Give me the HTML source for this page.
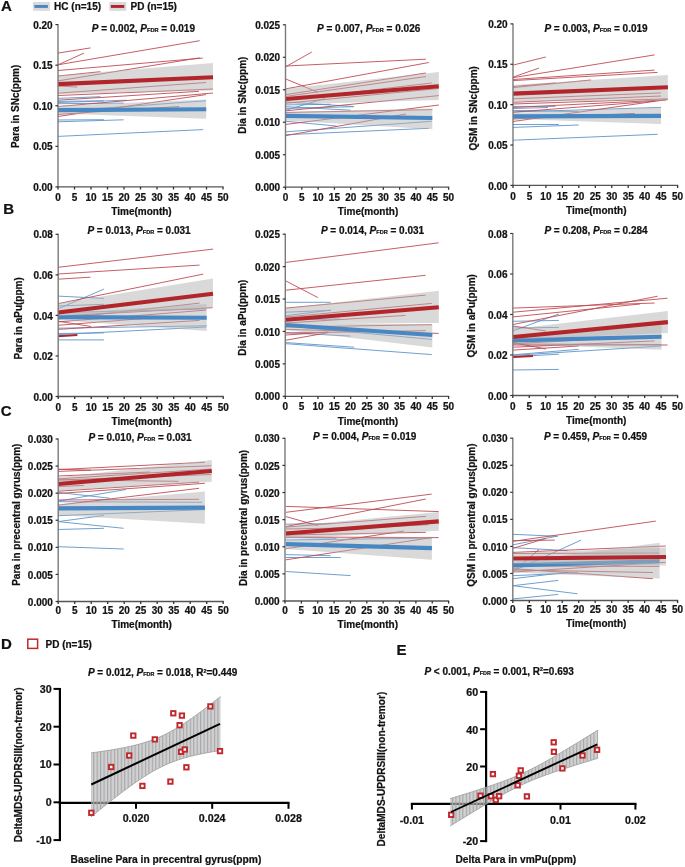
<!DOCTYPE html><html><head><meta charset="utf-8"><style>html,body{margin:0;padding:0;background:#fff;}svg{display:block;will-change:transform;}</style></head><body><svg width="685" height="867" viewBox="0 0 685 867" font-family='"Liberation Sans", sans-serif'>
<style>text{stroke:#111;stroke-width:0.22px;paint-order:stroke;}</style>
<rect width="685" height="867" fill="#fff"/>
<text x="1.00" y="11.40" font-size="15" text-anchor="start" font-weight="bold" fill="#111" >A</text>
<text x="3.30" y="213.50" font-size="15" text-anchor="start" font-weight="bold" fill="#111" >B</text>
<text x="0.70" y="415.50" font-size="15" text-anchor="start" font-weight="bold" fill="#111" >C</text>
<rect x="33" y="2" width="16.8" height="8.8" fill="#d9d9d9"/>
<rect x="34.4" y="5" width="13.5" height="2.9" fill="#4787c4"/>
<text x="54.10" y="9.90" font-size="10" text-anchor="start" font-weight="bold" fill="#111" >HC (n=15)</text>
<rect x="109.4" y="2" width="16.8" height="8.8" fill="#d9d9d9"/>
<rect x="110.8" y="5" width="13.5" height="2.9" fill="#b2252a"/>
<text x="130.50" y="9.90" font-size="10" text-anchor="start" font-weight="bold" fill="#111" >PD (n=15)</text>
<line x1="58.00" y1="98.40" x2="100.40" y2="96.70" stroke="#5f95c8" stroke-width="0.9" />
<line x1="58.00" y1="101.40" x2="103.90" y2="100.80" stroke="#5f95c8" stroke-width="0.9" />
<line x1="58.00" y1="102.50" x2="126.70" y2="100.20" stroke="#5f95c8" stroke-width="0.9" />
<line x1="58.00" y1="103.70" x2="123.70" y2="103.10" stroke="#5f95c8" stroke-width="0.9" />
<line x1="58.00" y1="111.40" x2="205.90" y2="100.80" stroke="#5f95c8" stroke-width="0.9" />
<line x1="58.00" y1="120.00" x2="103.90" y2="119.70" stroke="#5f95c8" stroke-width="0.9" />
<line x1="58.00" y1="121.80" x2="123.70" y2="119.80" stroke="#5f95c8" stroke-width="0.9" />
<line x1="58.00" y1="136.40" x2="203.20" y2="129.60" stroke="#5f95c8" stroke-width="0.9" />
<line x1="58.00" y1="53.10" x2="90.50" y2="47.90" stroke="#bf4c52" stroke-width="0.9" />
<line x1="58.00" y1="64.80" x2="84.00" y2="53.10" stroke="#bf4c52" stroke-width="0.9" />
<line x1="58.00" y1="64.80" x2="199.70" y2="40.70" stroke="#bf4c52" stroke-width="0.9" />
<line x1="58.00" y1="70.50" x2="202.70" y2="58.10" stroke="#bf4c52" stroke-width="0.9" />
<line x1="58.00" y1="76.00" x2="100.40" y2="71.70" stroke="#bf4c52" stroke-width="0.9" />
<line x1="58.00" y1="80.90" x2="199.70" y2="57.80" stroke="#bf4c52" stroke-width="0.9" />
<line x1="58.00" y1="85.90" x2="77.30" y2="87.10" stroke="#bf4c52" stroke-width="0.9" />
<line x1="58.00" y1="93.20" x2="206.00" y2="82.50" stroke="#bf4c52" stroke-width="0.9" />
<line x1="58.00" y1="95.50" x2="213.00" y2="89.00" stroke="#bf4c52" stroke-width="0.9" />
<line x1="58.00" y1="100.20" x2="199.00" y2="91.30" stroke="#bf4c52" stroke-width="0.9" />
<line x1="58.00" y1="106.60" x2="213.00" y2="93.00" stroke="#bf4c52" stroke-width="0.9" />
<line x1="58.00" y1="116.50" x2="206.00" y2="94.60" stroke="#bf4c52" stroke-width="0.9" />
<line x1="58.00" y1="114.40" x2="179.10" y2="106.50" stroke="#bf4c52" stroke-width="0.9" />
<polygon points="58.00,105.80 206.20,99.40 206.20,118.80 58.00,113.40" fill="#b4b4b4" fill-opacity="0.5"/>
<line x1="58.00" y1="110.10" x2="206.20" y2="109.20" stroke="#4787c4" stroke-width="4.1" />
<polygon points="58.00,75.40 213.00,63.10 213.00,90.60 58.00,94.10" fill="#b4b4b4" fill-opacity="0.5"/>
<line x1="58.00" y1="84.10" x2="213.00" y2="77.20" stroke="#b2252a" stroke-width="4.1" />
<line x1="58.00" y1="24.10" x2="58.00" y2="186.90" stroke="#7a7a7a" stroke-width="1.4" />
<line x1="57.30" y1="186.90" x2="223.60" y2="186.90" stroke="#555555" stroke-width="1.3" />
<line x1="55.40" y1="186.90" x2="58.00" y2="186.90" stroke="#333333" stroke-width="1.2" />
<text x="52.70" y="191.00" font-size="10" text-anchor="end" font-weight="bold" fill="#111" >0.00</text>
<line x1="55.40" y1="146.32" x2="58.00" y2="146.32" stroke="#333333" stroke-width="1.2" />
<text x="52.70" y="150.42" font-size="10" text-anchor="end" font-weight="bold" fill="#111" >0.05</text>
<line x1="55.40" y1="105.75" x2="58.00" y2="105.75" stroke="#333333" stroke-width="1.2" />
<text x="52.70" y="109.85" font-size="10" text-anchor="end" font-weight="bold" fill="#111" >0.10</text>
<line x1="55.40" y1="65.17" x2="58.00" y2="65.17" stroke="#333333" stroke-width="1.2" />
<text x="52.70" y="69.27" font-size="10" text-anchor="end" font-weight="bold" fill="#111" >0.15</text>
<line x1="55.40" y1="24.60" x2="58.00" y2="24.60" stroke="#333333" stroke-width="1.2" />
<text x="52.70" y="28.70" font-size="10" text-anchor="end" font-weight="bold" fill="#111" >0.20</text>
<line x1="58.00" y1="186.90" x2="58.00" y2="189.50" stroke="#333333" stroke-width="1.3" />
<text x="58.00" y="201.00" font-size="10" text-anchor="middle" font-weight="bold" fill="#111" >0</text>
<line x1="74.50" y1="186.90" x2="74.50" y2="189.50" stroke="#333333" stroke-width="1.3" />
<text x="74.50" y="201.00" font-size="10" text-anchor="middle" font-weight="bold" fill="#111" >5</text>
<line x1="91.00" y1="186.90" x2="91.00" y2="189.50" stroke="#333333" stroke-width="1.3" />
<text x="91.00" y="201.00" font-size="10" text-anchor="middle" font-weight="bold" fill="#111" >10</text>
<line x1="107.50" y1="186.90" x2="107.50" y2="189.50" stroke="#333333" stroke-width="1.3" />
<text x="107.50" y="201.00" font-size="10" text-anchor="middle" font-weight="bold" fill="#111" >15</text>
<line x1="124.00" y1="186.90" x2="124.00" y2="189.50" stroke="#333333" stroke-width="1.3" />
<text x="124.00" y="201.00" font-size="10" text-anchor="middle" font-weight="bold" fill="#111" >20</text>
<line x1="140.50" y1="186.90" x2="140.50" y2="189.50" stroke="#333333" stroke-width="1.3" />
<text x="140.50" y="201.00" font-size="10" text-anchor="middle" font-weight="bold" fill="#111" >25</text>
<line x1="157.00" y1="186.90" x2="157.00" y2="189.50" stroke="#333333" stroke-width="1.3" />
<text x="157.00" y="201.00" font-size="10" text-anchor="middle" font-weight="bold" fill="#111" >30</text>
<line x1="173.50" y1="186.90" x2="173.50" y2="189.50" stroke="#333333" stroke-width="1.3" />
<text x="173.50" y="201.00" font-size="10" text-anchor="middle" font-weight="bold" fill="#111" >35</text>
<line x1="190.00" y1="186.90" x2="190.00" y2="189.50" stroke="#333333" stroke-width="1.3" />
<text x="190.00" y="201.00" font-size="10" text-anchor="middle" font-weight="bold" fill="#111" >40</text>
<line x1="206.50" y1="186.90" x2="206.50" y2="189.50" stroke="#333333" stroke-width="1.3" />
<text x="206.50" y="201.00" font-size="10" text-anchor="middle" font-weight="bold" fill="#111" >45</text>
<line x1="223.00" y1="186.90" x2="223.00" y2="189.50" stroke="#333333" stroke-width="1.3" />
<text x="223.00" y="201.00" font-size="10" text-anchor="middle" font-weight="bold" fill="#111" >50</text>
<text x="141.50" y="215.10" font-size="10" text-anchor="middle" font-weight="bold" fill="#111" >Time(month)</text>
<text x="0" y="0" font-size="10" font-weight="bold" fill="#111" text-anchor="middle" transform="translate(19.40,106.40) rotate(-90)">Para in SNc(ppm)</text>
<text x="91.70" y="31.70" font-size="10" font-weight="bold" fill="#111"><tspan font-style="italic">P</tspan> = 0.002, <tspan font-style="italic">P</tspan><tspan font-size="5.6">FDR</tspan> = 0.019</text>
<line x1="286.00" y1="104.90" x2="330.70" y2="104.30" stroke="#5f95c8" stroke-width="0.9" />
<line x1="286.00" y1="106.70" x2="350.60" y2="110.20" stroke="#5f95c8" stroke-width="0.9" />
<line x1="286.00" y1="110.20" x2="324.90" y2="98.50" stroke="#5f95c8" stroke-width="0.9" />
<line x1="286.00" y1="108.40" x2="354.00" y2="106.70" stroke="#5f95c8" stroke-width="0.9" />
<line x1="286.00" y1="121.30" x2="336.60" y2="126.00" stroke="#5f95c8" stroke-width="0.9" />
<line x1="286.00" y1="131.80" x2="431.70" y2="121.30" stroke="#5f95c8" stroke-width="0.9" />
<line x1="286.00" y1="134.70" x2="428.80" y2="128.30" stroke="#5f95c8" stroke-width="0.9" />
<line x1="286.00" y1="102.00" x2="353.70" y2="106.50" stroke="#5f95c8" stroke-width="0.9" />
<line x1="286.00" y1="66.60" x2="311.80" y2="52.00" stroke="#bf4c52" stroke-width="0.9" />
<line x1="286.00" y1="66.00" x2="425.90" y2="59.20" stroke="#bf4c52" stroke-width="0.9" />
<line x1="286.00" y1="79.10" x2="317.90" y2="92.30" stroke="#bf4c52" stroke-width="0.9" />
<line x1="286.00" y1="88.80" x2="428.80" y2="62.50" stroke="#bf4c52" stroke-width="0.9" />
<line x1="286.00" y1="94.60" x2="425.90" y2="73.00" stroke="#bf4c52" stroke-width="0.9" />
<line x1="286.00" y1="96.40" x2="425.90" y2="76.50" stroke="#bf4c52" stroke-width="0.9" />
<line x1="286.00" y1="100.00" x2="431.70" y2="83.00" stroke="#bf4c52" stroke-width="0.9" />
<line x1="286.00" y1="103.20" x2="438.70" y2="88.50" stroke="#bf4c52" stroke-width="0.9" />
<line x1="286.00" y1="110.80" x2="438.70" y2="95.60" stroke="#bf4c52" stroke-width="0.9" />
<line x1="286.00" y1="112.50" x2="432.30" y2="109.60" stroke="#bf4c52" stroke-width="0.9" />
<line x1="286.00" y1="124.40" x2="438.90" y2="105.00" stroke="#bf4c52" stroke-width="0.9" />
<line x1="286.00" y1="135.60" x2="405.90" y2="114.00" stroke="#bf4c52" stroke-width="0.9" />
<polygon points="286.00,111.90 432.30,108.50 432.30,129.30 286.00,120.40" fill="#b4b4b4" fill-opacity="0.5"/>
<line x1="286.00" y1="115.90" x2="432.30" y2="118.00" stroke="#4787c4" stroke-width="4.1" />
<polygon points="286.00,88.70 438.80,72.10 438.80,100.00 286.00,104.50" fill="#b4b4b4" fill-opacity="0.5"/>
<line x1="286.00" y1="99.00" x2="438.80" y2="86.20" stroke="#b2252a" stroke-width="4.1" />
<line x1="285.50" y1="24.30" x2="285.50" y2="187.20" stroke="#7a7a7a" stroke-width="1.4" />
<line x1="284.80" y1="187.20" x2="449.20" y2="187.20" stroke="#555555" stroke-width="1.3" />
<line x1="282.90" y1="187.20" x2="285.50" y2="187.20" stroke="#333333" stroke-width="1.2" />
<text x="280.20" y="191.30" font-size="10" text-anchor="end" font-weight="bold" fill="#111" >0.000</text>
<line x1="282.90" y1="154.72" x2="285.50" y2="154.72" stroke="#333333" stroke-width="1.2" />
<text x="280.20" y="158.82" font-size="10" text-anchor="end" font-weight="bold" fill="#111" >0.005</text>
<line x1="282.90" y1="122.24" x2="285.50" y2="122.24" stroke="#333333" stroke-width="1.2" />
<text x="280.20" y="126.34" font-size="10" text-anchor="end" font-weight="bold" fill="#111" >0.010</text>
<line x1="282.90" y1="89.76" x2="285.50" y2="89.76" stroke="#333333" stroke-width="1.2" />
<text x="280.20" y="93.86" font-size="10" text-anchor="end" font-weight="bold" fill="#111" >0.015</text>
<line x1="282.90" y1="57.28" x2="285.50" y2="57.28" stroke="#333333" stroke-width="1.2" />
<text x="280.20" y="61.38" font-size="10" text-anchor="end" font-weight="bold" fill="#111" >0.020</text>
<line x1="282.90" y1="24.80" x2="285.50" y2="24.80" stroke="#333333" stroke-width="1.2" />
<text x="280.20" y="28.90" font-size="10" text-anchor="end" font-weight="bold" fill="#111" >0.025</text>
<line x1="285.50" y1="187.20" x2="285.50" y2="189.80" stroke="#333333" stroke-width="1.3" />
<text x="285.50" y="201.30" font-size="10" text-anchor="middle" font-weight="bold" fill="#111" >0</text>
<line x1="301.81" y1="187.20" x2="301.81" y2="189.80" stroke="#333333" stroke-width="1.3" />
<text x="301.81" y="201.30" font-size="10" text-anchor="middle" font-weight="bold" fill="#111" >5</text>
<line x1="318.12" y1="187.20" x2="318.12" y2="189.80" stroke="#333333" stroke-width="1.3" />
<text x="318.12" y="201.30" font-size="10" text-anchor="middle" font-weight="bold" fill="#111" >10</text>
<line x1="334.43" y1="187.20" x2="334.43" y2="189.80" stroke="#333333" stroke-width="1.3" />
<text x="334.43" y="201.30" font-size="10" text-anchor="middle" font-weight="bold" fill="#111" >15</text>
<line x1="350.74" y1="187.20" x2="350.74" y2="189.80" stroke="#333333" stroke-width="1.3" />
<text x="350.74" y="201.30" font-size="10" text-anchor="middle" font-weight="bold" fill="#111" >20</text>
<line x1="367.05" y1="187.20" x2="367.05" y2="189.80" stroke="#333333" stroke-width="1.3" />
<text x="367.05" y="201.30" font-size="10" text-anchor="middle" font-weight="bold" fill="#111" >25</text>
<line x1="383.36" y1="187.20" x2="383.36" y2="189.80" stroke="#333333" stroke-width="1.3" />
<text x="383.36" y="201.30" font-size="10" text-anchor="middle" font-weight="bold" fill="#111" >30</text>
<line x1="399.67" y1="187.20" x2="399.67" y2="189.80" stroke="#333333" stroke-width="1.3" />
<text x="399.67" y="201.30" font-size="10" text-anchor="middle" font-weight="bold" fill="#111" >35</text>
<line x1="415.98" y1="187.20" x2="415.98" y2="189.80" stroke="#333333" stroke-width="1.3" />
<text x="415.98" y="201.30" font-size="10" text-anchor="middle" font-weight="bold" fill="#111" >40</text>
<line x1="432.29" y1="187.20" x2="432.29" y2="189.80" stroke="#333333" stroke-width="1.3" />
<text x="432.29" y="201.30" font-size="10" text-anchor="middle" font-weight="bold" fill="#111" >45</text>
<line x1="448.60" y1="187.20" x2="448.60" y2="189.80" stroke="#333333" stroke-width="1.3" />
<text x="448.60" y="201.30" font-size="10" text-anchor="middle" font-weight="bold" fill="#111" >50</text>
<text x="368.05" y="215.40" font-size="10" text-anchor="middle" font-weight="bold" fill="#111" >Time(month)</text>
<text x="0" y="0" font-size="10" font-weight="bold" fill="#111" text-anchor="middle" transform="translate(246.00,95.20) rotate(-90)">Dia in SNc(ppm)</text>
<text x="317.00" y="31.70" font-size="10" font-weight="bold" fill="#111"><tspan font-style="italic">P</tspan> = 0.007, <tspan font-style="italic">P</tspan><tspan font-size="5.6">FDR</tspan> = 0.026</text>
<line x1="513.00" y1="106.40" x2="555.40" y2="106.40" stroke="#5f95c8" stroke-width="0.9" />
<line x1="513.00" y1="108.50" x2="548.00" y2="107.50" stroke="#5f95c8" stroke-width="0.9" />
<line x1="513.00" y1="110.40" x2="578.70" y2="111.60" stroke="#5f95c8" stroke-width="0.9" />
<line x1="513.00" y1="112.00" x2="661.00" y2="107.40" stroke="#5f95c8" stroke-width="0.9" />
<line x1="513.00" y1="124.50" x2="558.90" y2="124.50" stroke="#5f95c8" stroke-width="0.9" />
<line x1="513.00" y1="127.40" x2="578.70" y2="125.00" stroke="#5f95c8" stroke-width="0.9" />
<line x1="513.00" y1="140.20" x2="657.70" y2="134.30" stroke="#5f95c8" stroke-width="0.9" />
<line x1="513.00" y1="65.10" x2="545.80" y2="57.00" stroke="#bf4c52" stroke-width="0.9" />
<line x1="513.00" y1="77.10" x2="539.00" y2="68.10" stroke="#bf4c52" stroke-width="0.9" />
<line x1="513.00" y1="77.70" x2="654.60" y2="54.90" stroke="#bf4c52" stroke-width="0.9" />
<line x1="513.00" y1="79.50" x2="654.60" y2="70.10" stroke="#bf4c52" stroke-width="0.9" />
<line x1="513.00" y1="80.60" x2="657.60" y2="72.40" stroke="#bf4c52" stroke-width="0.9" />
<line x1="513.00" y1="86.50" x2="555.40" y2="83.00" stroke="#bf4c52" stroke-width="0.9" />
<line x1="513.00" y1="87.60" x2="591.00" y2="80.00" stroke="#bf4c52" stroke-width="0.9" />
<line x1="513.00" y1="98.80" x2="661.00" y2="92.90" stroke="#bf4c52" stroke-width="0.9" />
<line x1="513.00" y1="102.30" x2="661.00" y2="96.00" stroke="#bf4c52" stroke-width="0.9" />
<line x1="513.00" y1="104.00" x2="667.50" y2="98.80" stroke="#bf4c52" stroke-width="0.9" />
<line x1="513.00" y1="107.50" x2="665.70" y2="99.90" stroke="#bf4c52" stroke-width="0.9" />
<line x1="513.00" y1="112.20" x2="655.20" y2="101.10" stroke="#bf4c52" stroke-width="0.9" />
<line x1="513.00" y1="121.50" x2="667.60" y2="99.50" stroke="#bf4c52" stroke-width="0.9" />
<line x1="513.00" y1="119.00" x2="634.80" y2="113.40" stroke="#bf4c52" stroke-width="0.9" />
<polygon points="513.00,112.90 661.00,107.40 661.00,124.00 513.00,118.90" fill="#b4b4b4" fill-opacity="0.5"/>
<line x1="513.00" y1="116.40" x2="661.00" y2="115.90" stroke="#4787c4" stroke-width="4.1" />
<polygon points="513.00,85.10 667.90,75.10 667.90,100.60 513.00,101.60" fill="#b4b4b4" fill-opacity="0.5"/>
<line x1="513.00" y1="93.60" x2="667.90" y2="87.20" stroke="#b2252a" stroke-width="4.1" />
<line x1="513.00" y1="23.40" x2="513.00" y2="185.40" stroke="#7a7a7a" stroke-width="1.4" />
<line x1="512.30" y1="185.40" x2="678.20" y2="185.40" stroke="#555555" stroke-width="1.3" />
<line x1="510.40" y1="185.40" x2="513.00" y2="185.40" stroke="#333333" stroke-width="1.2" />
<text x="507.70" y="189.50" font-size="10" text-anchor="end" font-weight="bold" fill="#111" >0.00</text>
<line x1="510.40" y1="145.03" x2="513.00" y2="145.03" stroke="#333333" stroke-width="1.2" />
<text x="507.70" y="149.12" font-size="10" text-anchor="end" font-weight="bold" fill="#111" >0.05</text>
<line x1="510.40" y1="104.65" x2="513.00" y2="104.65" stroke="#333333" stroke-width="1.2" />
<text x="507.70" y="108.75" font-size="10" text-anchor="end" font-weight="bold" fill="#111" >0.10</text>
<line x1="510.40" y1="64.28" x2="513.00" y2="64.28" stroke="#333333" stroke-width="1.2" />
<text x="507.70" y="68.38" font-size="10" text-anchor="end" font-weight="bold" fill="#111" >0.15</text>
<line x1="510.40" y1="23.90" x2="513.00" y2="23.90" stroke="#333333" stroke-width="1.2" />
<text x="507.70" y="28.00" font-size="10" text-anchor="end" font-weight="bold" fill="#111" >0.20</text>
<line x1="513.00" y1="185.40" x2="513.00" y2="188.00" stroke="#333333" stroke-width="1.3" />
<text x="513.00" y="199.50" font-size="10" text-anchor="middle" font-weight="bold" fill="#111" >0</text>
<line x1="529.46" y1="185.40" x2="529.46" y2="188.00" stroke="#333333" stroke-width="1.3" />
<text x="529.46" y="199.50" font-size="10" text-anchor="middle" font-weight="bold" fill="#111" >5</text>
<line x1="545.92" y1="185.40" x2="545.92" y2="188.00" stroke="#333333" stroke-width="1.3" />
<text x="545.92" y="199.50" font-size="10" text-anchor="middle" font-weight="bold" fill="#111" >10</text>
<line x1="562.38" y1="185.40" x2="562.38" y2="188.00" stroke="#333333" stroke-width="1.3" />
<text x="562.38" y="199.50" font-size="10" text-anchor="middle" font-weight="bold" fill="#111" >15</text>
<line x1="578.84" y1="185.40" x2="578.84" y2="188.00" stroke="#333333" stroke-width="1.3" />
<text x="578.84" y="199.50" font-size="10" text-anchor="middle" font-weight="bold" fill="#111" >20</text>
<line x1="595.30" y1="185.40" x2="595.30" y2="188.00" stroke="#333333" stroke-width="1.3" />
<text x="595.30" y="199.50" font-size="10" text-anchor="middle" font-weight="bold" fill="#111" >25</text>
<line x1="611.76" y1="185.40" x2="611.76" y2="188.00" stroke="#333333" stroke-width="1.3" />
<text x="611.76" y="199.50" font-size="10" text-anchor="middle" font-weight="bold" fill="#111" >30</text>
<line x1="628.22" y1="185.40" x2="628.22" y2="188.00" stroke="#333333" stroke-width="1.3" />
<text x="628.22" y="199.50" font-size="10" text-anchor="middle" font-weight="bold" fill="#111" >35</text>
<line x1="644.68" y1="185.40" x2="644.68" y2="188.00" stroke="#333333" stroke-width="1.3" />
<text x="644.68" y="199.50" font-size="10" text-anchor="middle" font-weight="bold" fill="#111" >40</text>
<line x1="661.14" y1="185.40" x2="661.14" y2="188.00" stroke="#333333" stroke-width="1.3" />
<text x="661.14" y="199.50" font-size="10" text-anchor="middle" font-weight="bold" fill="#111" >45</text>
<line x1="677.60" y1="185.40" x2="677.60" y2="188.00" stroke="#333333" stroke-width="1.3" />
<text x="677.60" y="199.50" font-size="10" text-anchor="middle" font-weight="bold" fill="#111" >50</text>
<text x="596.30" y="213.60" font-size="10" text-anchor="middle" font-weight="bold" fill="#111" >Time(month)</text>
<text x="0" y="0" font-size="10" font-weight="bold" fill="#111" text-anchor="middle" transform="translate(476.80,108.30) rotate(-90)">QSM in SNc(ppm)</text>
<text x="544.40" y="31.50" font-size="10" font-weight="bold" fill="#111"><tspan font-style="italic">P</tspan> = 0.003, <tspan font-style="italic">P</tspan><tspan font-size="5.6">FDR</tspan> = 0.019</text>
<line x1="58.00" y1="296.10" x2="103.90" y2="298.40" stroke="#5f95c8" stroke-width="0.9" />
<line x1="58.00" y1="308.90" x2="103.90" y2="289.10" stroke="#5f95c8" stroke-width="0.9" />
<line x1="58.00" y1="306.00" x2="103.90" y2="304.30" stroke="#5f95c8" stroke-width="0.9" />
<line x1="58.00" y1="312.70" x2="206.10" y2="308.90" stroke="#5f95c8" stroke-width="0.9" />
<line x1="58.00" y1="328.20" x2="206.70" y2="325.80" stroke="#5f95c8" stroke-width="0.9" />
<line x1="58.00" y1="334.60" x2="206.10" y2="327.00" stroke="#5f95c8" stroke-width="0.9" />
<line x1="58.00" y1="333.50" x2="103.90" y2="332.90" stroke="#5f95c8" stroke-width="0.9" />
<line x1="58.00" y1="339.90" x2="103.90" y2="339.90" stroke="#5f95c8" stroke-width="0.9" />
<line x1="58.00" y1="267.30" x2="213.10" y2="249.10" stroke="#bf4c52" stroke-width="0.9" />
<line x1="58.00" y1="274.00" x2="199.60" y2="265.10" stroke="#bf4c52" stroke-width="0.9" />
<line x1="58.00" y1="279.20" x2="90.50" y2="277.20" stroke="#bf4c52" stroke-width="0.9" />
<line x1="58.00" y1="303.70" x2="203.20" y2="274.10" stroke="#bf4c52" stroke-width="0.9" />
<line x1="58.00" y1="318.90" x2="199.60" y2="303.10" stroke="#bf4c52" stroke-width="0.9" />
<line x1="58.00" y1="316.00" x2="212.50" y2="307.70" stroke="#bf4c52" stroke-width="0.9" />
<line x1="58.00" y1="321.90" x2="206.10" y2="310.10" stroke="#bf4c52" stroke-width="0.9" />
<line x1="58.00" y1="321.20" x2="91.00" y2="326.50" stroke="#bf4c52" stroke-width="0.9" />
<line x1="58.00" y1="329.40" x2="199.60" y2="320.40" stroke="#bf4c52" stroke-width="0.9" />
<line x1="58.00" y1="325.30" x2="150.00" y2="318.00" stroke="#bf4c52" stroke-width="0.9" />
<line x1="58.00" y1="336.30" x2="77.30" y2="335.00" stroke="#b2252a" stroke-width="2" />
<polygon points="58.00,313.60 206.70,303.90 206.70,331.00 58.00,320.10" fill="#b4b4b4" fill-opacity="0.5"/>
<line x1="58.00" y1="317.10" x2="206.70" y2="317.70" stroke="#4787c4" stroke-width="4.1" />
<polygon points="58.00,303.50 213.00,278.50 213.00,308.00 58.00,316.00" fill="#b4b4b4" fill-opacity="0.5"/>
<line x1="58.00" y1="312.50" x2="213.00" y2="293.80" stroke="#b2252a" stroke-width="4.1" />
<line x1="58.20" y1="233.80" x2="58.20" y2="396.50" stroke="#7a7a7a" stroke-width="1.4" />
<line x1="57.50" y1="396.50" x2="223.80" y2="396.50" stroke="#555555" stroke-width="1.3" />
<line x1="55.60" y1="396.50" x2="58.20" y2="396.50" stroke="#333333" stroke-width="1.2" />
<text x="52.90" y="400.60" font-size="10" text-anchor="end" font-weight="bold" fill="#111" >0.00</text>
<line x1="55.60" y1="355.95" x2="58.20" y2="355.95" stroke="#333333" stroke-width="1.2" />
<text x="52.90" y="360.05" font-size="10" text-anchor="end" font-weight="bold" fill="#111" >0.02</text>
<line x1="55.60" y1="315.40" x2="58.20" y2="315.40" stroke="#333333" stroke-width="1.2" />
<text x="52.90" y="319.50" font-size="10" text-anchor="end" font-weight="bold" fill="#111" >0.04</text>
<line x1="55.60" y1="274.85" x2="58.20" y2="274.85" stroke="#333333" stroke-width="1.2" />
<text x="52.90" y="278.95" font-size="10" text-anchor="end" font-weight="bold" fill="#111" >0.06</text>
<line x1="55.60" y1="234.30" x2="58.20" y2="234.30" stroke="#333333" stroke-width="1.2" />
<text x="52.90" y="238.40" font-size="10" text-anchor="end" font-weight="bold" fill="#111" >0.08</text>
<line x1="58.20" y1="396.50" x2="58.20" y2="399.10" stroke="#333333" stroke-width="1.3" />
<text x="58.20" y="410.60" font-size="10" text-anchor="middle" font-weight="bold" fill="#111" >0</text>
<line x1="74.70" y1="396.50" x2="74.70" y2="399.10" stroke="#333333" stroke-width="1.3" />
<text x="74.70" y="410.60" font-size="10" text-anchor="middle" font-weight="bold" fill="#111" >5</text>
<line x1="91.20" y1="396.50" x2="91.20" y2="399.10" stroke="#333333" stroke-width="1.3" />
<text x="91.20" y="410.60" font-size="10" text-anchor="middle" font-weight="bold" fill="#111" >10</text>
<line x1="107.70" y1="396.50" x2="107.70" y2="399.10" stroke="#333333" stroke-width="1.3" />
<text x="107.70" y="410.60" font-size="10" text-anchor="middle" font-weight="bold" fill="#111" >15</text>
<line x1="124.20" y1="396.50" x2="124.20" y2="399.10" stroke="#333333" stroke-width="1.3" />
<text x="124.20" y="410.60" font-size="10" text-anchor="middle" font-weight="bold" fill="#111" >20</text>
<line x1="140.70" y1="396.50" x2="140.70" y2="399.10" stroke="#333333" stroke-width="1.3" />
<text x="140.70" y="410.60" font-size="10" text-anchor="middle" font-weight="bold" fill="#111" >25</text>
<line x1="157.20" y1="396.50" x2="157.20" y2="399.10" stroke="#333333" stroke-width="1.3" />
<text x="157.20" y="410.60" font-size="10" text-anchor="middle" font-weight="bold" fill="#111" >30</text>
<line x1="173.70" y1="396.50" x2="173.70" y2="399.10" stroke="#333333" stroke-width="1.3" />
<text x="173.70" y="410.60" font-size="10" text-anchor="middle" font-weight="bold" fill="#111" >35</text>
<line x1="190.20" y1="396.50" x2="190.20" y2="399.10" stroke="#333333" stroke-width="1.3" />
<text x="190.20" y="410.60" font-size="10" text-anchor="middle" font-weight="bold" fill="#111" >40</text>
<line x1="206.70" y1="396.50" x2="206.70" y2="399.10" stroke="#333333" stroke-width="1.3" />
<text x="206.70" y="410.60" font-size="10" text-anchor="middle" font-weight="bold" fill="#111" >45</text>
<line x1="223.20" y1="396.50" x2="223.20" y2="399.10" stroke="#333333" stroke-width="1.3" />
<text x="223.20" y="410.60" font-size="10" text-anchor="middle" font-weight="bold" fill="#111" >50</text>
<text x="141.70" y="424.70" font-size="10" text-anchor="middle" font-weight="bold" fill="#111" >Time(month)</text>
<text x="0" y="0" font-size="10" font-weight="bold" fill="#111" text-anchor="middle" transform="translate(22.30,318.30) rotate(-90)">Para in aPu(ppm)</text>
<text x="87.40" y="234.00" font-size="10" font-weight="bold" fill="#111"><tspan font-style="italic">P</tspan> = 0.013, <tspan font-style="italic">P</tspan><tspan font-size="5.6">FDR</tspan> = 0.031</text>
<line x1="286.00" y1="302.30" x2="330.70" y2="302.30" stroke="#5f95c8" stroke-width="0.9" />
<line x1="286.00" y1="312.20" x2="330.70" y2="310.40" stroke="#5f95c8" stroke-width="0.9" />
<line x1="286.00" y1="315.70" x2="330.70" y2="310.10" stroke="#5f95c8" stroke-width="0.9" />
<line x1="286.00" y1="320.00" x2="340.00" y2="319.00" stroke="#5f95c8" stroke-width="0.9" />
<line x1="286.00" y1="332.60" x2="350.60" y2="336.10" stroke="#5f95c8" stroke-width="0.9" />
<line x1="286.00" y1="342.60" x2="354.10" y2="347.20" stroke="#5f95c8" stroke-width="0.9" />
<line x1="286.00" y1="343.70" x2="431.80" y2="354.60" stroke="#5f95c8" stroke-width="0.9" />
<line x1="286.00" y1="326.00" x2="431.80" y2="339.40" stroke="#5f95c8" stroke-width="0.9" />
<line x1="286.00" y1="262.40" x2="438.70" y2="242.80" stroke="#bf4c52" stroke-width="0.9" />
<line x1="286.00" y1="290.20" x2="425.60" y2="275.30" stroke="#bf4c52" stroke-width="0.9" />
<line x1="286.00" y1="281.00" x2="317.90" y2="297.60" stroke="#bf4c52" stroke-width="0.9" />
<line x1="286.00" y1="308.10" x2="425.60" y2="295.10" stroke="#bf4c52" stroke-width="0.9" />
<line x1="286.00" y1="317.00" x2="431.80" y2="303.40" stroke="#bf4c52" stroke-width="0.9" />
<line x1="286.00" y1="323.00" x2="405.50" y2="315.40" stroke="#bf4c52" stroke-width="0.9" />
<line x1="286.00" y1="327.00" x2="431.80" y2="324.70" stroke="#bf4c52" stroke-width="0.9" />
<line x1="286.00" y1="333.00" x2="425.60" y2="330.70" stroke="#bf4c52" stroke-width="0.9" />
<line x1="286.00" y1="329.40" x2="438.70" y2="333.40" stroke="#bf4c52" stroke-width="0.9" />
<line x1="286.00" y1="335.00" x2="328.40" y2="332.00" stroke="#bf4c52" stroke-width="0.9" />
<line x1="286.00" y1="340.20" x2="328.40" y2="332.60" stroke="#bf4c52" stroke-width="0.9" />
<polygon points="286.00,322.00 432.30,324.20 432.30,347.50 286.00,330.00" fill="#b4b4b4" fill-opacity="0.5"/>
<line x1="286.00" y1="325.00" x2="432.30" y2="335.00" stroke="#4787c4" stroke-width="4.1" />
<polygon points="286.00,308.30 438.80,290.80 438.80,322.90 286.00,322.80" fill="#b4b4b4" fill-opacity="0.5"/>
<line x1="286.00" y1="319.80" x2="438.80" y2="307.30" stroke="#b2252a" stroke-width="4.1" />
<line x1="285.30" y1="233.70" x2="285.30" y2="396.30" stroke="#7a7a7a" stroke-width="1.4" />
<line x1="284.60" y1="396.30" x2="449.20" y2="396.30" stroke="#555555" stroke-width="1.3" />
<line x1="282.70" y1="396.30" x2="285.30" y2="396.30" stroke="#333333" stroke-width="1.2" />
<text x="280.00" y="400.40" font-size="10" text-anchor="end" font-weight="bold" fill="#111" >0.000</text>
<line x1="282.70" y1="363.88" x2="285.30" y2="363.88" stroke="#333333" stroke-width="1.2" />
<text x="280.00" y="367.98" font-size="10" text-anchor="end" font-weight="bold" fill="#111" >0.005</text>
<line x1="282.70" y1="331.46" x2="285.30" y2="331.46" stroke="#333333" stroke-width="1.2" />
<text x="280.00" y="335.56" font-size="10" text-anchor="end" font-weight="bold" fill="#111" >0.010</text>
<line x1="282.70" y1="299.04" x2="285.30" y2="299.04" stroke="#333333" stroke-width="1.2" />
<text x="280.00" y="303.14" font-size="10" text-anchor="end" font-weight="bold" fill="#111" >0.015</text>
<line x1="282.70" y1="266.62" x2="285.30" y2="266.62" stroke="#333333" stroke-width="1.2" />
<text x="280.00" y="270.72" font-size="10" text-anchor="end" font-weight="bold" fill="#111" >0.020</text>
<line x1="282.70" y1="234.20" x2="285.30" y2="234.20" stroke="#333333" stroke-width="1.2" />
<text x="280.00" y="238.30" font-size="10" text-anchor="end" font-weight="bold" fill="#111" >0.025</text>
<line x1="285.30" y1="396.30" x2="285.30" y2="398.90" stroke="#333333" stroke-width="1.3" />
<text x="285.30" y="410.40" font-size="10" text-anchor="middle" font-weight="bold" fill="#111" >0</text>
<line x1="301.63" y1="396.30" x2="301.63" y2="398.90" stroke="#333333" stroke-width="1.3" />
<text x="301.63" y="410.40" font-size="10" text-anchor="middle" font-weight="bold" fill="#111" >5</text>
<line x1="317.96" y1="396.30" x2="317.96" y2="398.90" stroke="#333333" stroke-width="1.3" />
<text x="317.96" y="410.40" font-size="10" text-anchor="middle" font-weight="bold" fill="#111" >10</text>
<line x1="334.29" y1="396.30" x2="334.29" y2="398.90" stroke="#333333" stroke-width="1.3" />
<text x="334.29" y="410.40" font-size="10" text-anchor="middle" font-weight="bold" fill="#111" >15</text>
<line x1="350.62" y1="396.30" x2="350.62" y2="398.90" stroke="#333333" stroke-width="1.3" />
<text x="350.62" y="410.40" font-size="10" text-anchor="middle" font-weight="bold" fill="#111" >20</text>
<line x1="366.95" y1="396.30" x2="366.95" y2="398.90" stroke="#333333" stroke-width="1.3" />
<text x="366.95" y="410.40" font-size="10" text-anchor="middle" font-weight="bold" fill="#111" >25</text>
<line x1="383.28" y1="396.30" x2="383.28" y2="398.90" stroke="#333333" stroke-width="1.3" />
<text x="383.28" y="410.40" font-size="10" text-anchor="middle" font-weight="bold" fill="#111" >30</text>
<line x1="399.61" y1="396.30" x2="399.61" y2="398.90" stroke="#333333" stroke-width="1.3" />
<text x="399.61" y="410.40" font-size="10" text-anchor="middle" font-weight="bold" fill="#111" >35</text>
<line x1="415.94" y1="396.30" x2="415.94" y2="398.90" stroke="#333333" stroke-width="1.3" />
<text x="415.94" y="410.40" font-size="10" text-anchor="middle" font-weight="bold" fill="#111" >40</text>
<line x1="432.27" y1="396.30" x2="432.27" y2="398.90" stroke="#333333" stroke-width="1.3" />
<text x="432.27" y="410.40" font-size="10" text-anchor="middle" font-weight="bold" fill="#111" >45</text>
<line x1="448.60" y1="396.30" x2="448.60" y2="398.90" stroke="#333333" stroke-width="1.3" />
<text x="448.60" y="410.40" font-size="10" text-anchor="middle" font-weight="bold" fill="#111" >50</text>
<text x="367.95" y="424.50" font-size="10" text-anchor="middle" font-weight="bold" fill="#111" >Time(month)</text>
<text x="0" y="0" font-size="10" font-weight="bold" fill="#111" text-anchor="middle" transform="translate(245.50,317.60) rotate(-90)">Dia in aPu(ppm)</text>
<text x="320.90" y="234.00" font-size="10" font-weight="bold" fill="#111"><tspan font-style="italic">P</tspan> = 0.014, <tspan font-style="italic">P</tspan><tspan font-size="5.6">FDR</tspan> = 0.031</text>
<line x1="513.00" y1="321.30" x2="558.90" y2="320.40" stroke="#5f95c8" stroke-width="0.9" />
<line x1="513.00" y1="330.90" x2="558.90" y2="313.90" stroke="#5f95c8" stroke-width="0.9" />
<line x1="513.00" y1="328.00" x2="558.90" y2="327.40" stroke="#5f95c8" stroke-width="0.9" />
<line x1="513.00" y1="354.80" x2="578.70" y2="349.30" stroke="#5f95c8" stroke-width="0.9" />
<line x1="513.00" y1="355.40" x2="661.40" y2="346.00" stroke="#5f95c8" stroke-width="0.9" />
<line x1="513.00" y1="356.60" x2="558.90" y2="354.20" stroke="#5f95c8" stroke-width="0.9" />
<line x1="513.00" y1="370.00" x2="558.90" y2="369.40" stroke="#5f95c8" stroke-width="0.9" />
<line x1="513.00" y1="344.00" x2="661.40" y2="344.50" stroke="#5f95c8" stroke-width="0.9" />
<line x1="513.00" y1="308.10" x2="654.70" y2="303.00" stroke="#bf4c52" stroke-width="0.9" />
<line x1="513.00" y1="312.20" x2="667.60" y2="298.20" stroke="#bf4c52" stroke-width="0.9" />
<line x1="513.00" y1="316.90" x2="640.00" y2="304.00" stroke="#bf4c52" stroke-width="0.9" />
<line x1="513.00" y1="324.50" x2="657.70" y2="296.20" stroke="#bf4c52" stroke-width="0.9" />
<line x1="513.00" y1="326.00" x2="546.00" y2="331.00" stroke="#bf4c52" stroke-width="0.9" />
<line x1="513.00" y1="342.60" x2="546.00" y2="349.00" stroke="#bf4c52" stroke-width="0.9" />
<line x1="513.00" y1="343.70" x2="661.40" y2="335.90" stroke="#bf4c52" stroke-width="0.9" />
<line x1="513.00" y1="347.20" x2="654.70" y2="340.90" stroke="#bf4c52" stroke-width="0.9" />
<line x1="513.00" y1="350.10" x2="578.70" y2="346.00" stroke="#bf4c52" stroke-width="0.9" />
<line x1="513.00" y1="345.00" x2="667.60" y2="345.00" stroke="#bf4c52" stroke-width="0.9" />
<line x1="513.00" y1="357.00" x2="533.00" y2="356.00" stroke="#b2252a" stroke-width="2" />
<polygon points="513.00,337.90 661.50,325.30 661.50,349.80 513.00,343.90" fill="#b4b4b4" fill-opacity="0.5"/>
<line x1="513.00" y1="340.40" x2="661.50" y2="336.80" stroke="#4787c4" stroke-width="4.1" />
<polygon points="513.00,329.00 667.90,311.10 667.90,332.90 513.00,339.50" fill="#b4b4b4" fill-opacity="0.5"/>
<line x1="513.00" y1="337.00" x2="667.90" y2="322.10" stroke="#b2252a" stroke-width="4.1" />
<line x1="512.80" y1="233.00" x2="512.80" y2="395.50" stroke="#7a7a7a" stroke-width="1.4" />
<line x1="512.10" y1="395.50" x2="678.20" y2="395.50" stroke="#555555" stroke-width="1.3" />
<line x1="510.20" y1="395.50" x2="512.80" y2="395.50" stroke="#333333" stroke-width="1.2" />
<text x="507.50" y="399.60" font-size="10" text-anchor="end" font-weight="bold" fill="#111" >0.00</text>
<line x1="510.20" y1="355.00" x2="512.80" y2="355.00" stroke="#333333" stroke-width="1.2" />
<text x="507.50" y="359.10" font-size="10" text-anchor="end" font-weight="bold" fill="#111" >0.02</text>
<line x1="510.20" y1="314.50" x2="512.80" y2="314.50" stroke="#333333" stroke-width="1.2" />
<text x="507.50" y="318.60" font-size="10" text-anchor="end" font-weight="bold" fill="#111" >0.04</text>
<line x1="510.20" y1="274.00" x2="512.80" y2="274.00" stroke="#333333" stroke-width="1.2" />
<text x="507.50" y="278.10" font-size="10" text-anchor="end" font-weight="bold" fill="#111" >0.06</text>
<line x1="510.20" y1="233.50" x2="512.80" y2="233.50" stroke="#333333" stroke-width="1.2" />
<text x="507.50" y="237.60" font-size="10" text-anchor="end" font-weight="bold" fill="#111" >0.08</text>
<line x1="512.80" y1="395.50" x2="512.80" y2="398.10" stroke="#333333" stroke-width="1.3" />
<text x="512.80" y="409.60" font-size="10" text-anchor="middle" font-weight="bold" fill="#111" >0</text>
<line x1="529.28" y1="395.50" x2="529.28" y2="398.10" stroke="#333333" stroke-width="1.3" />
<text x="529.28" y="409.60" font-size="10" text-anchor="middle" font-weight="bold" fill="#111" >5</text>
<line x1="545.76" y1="395.50" x2="545.76" y2="398.10" stroke="#333333" stroke-width="1.3" />
<text x="545.76" y="409.60" font-size="10" text-anchor="middle" font-weight="bold" fill="#111" >10</text>
<line x1="562.24" y1="395.50" x2="562.24" y2="398.10" stroke="#333333" stroke-width="1.3" />
<text x="562.24" y="409.60" font-size="10" text-anchor="middle" font-weight="bold" fill="#111" >15</text>
<line x1="578.72" y1="395.50" x2="578.72" y2="398.10" stroke="#333333" stroke-width="1.3" />
<text x="578.72" y="409.60" font-size="10" text-anchor="middle" font-weight="bold" fill="#111" >20</text>
<line x1="595.20" y1="395.50" x2="595.20" y2="398.10" stroke="#333333" stroke-width="1.3" />
<text x="595.20" y="409.60" font-size="10" text-anchor="middle" font-weight="bold" fill="#111" >25</text>
<line x1="611.68" y1="395.50" x2="611.68" y2="398.10" stroke="#333333" stroke-width="1.3" />
<text x="611.68" y="409.60" font-size="10" text-anchor="middle" font-weight="bold" fill="#111" >30</text>
<line x1="628.16" y1="395.50" x2="628.16" y2="398.10" stroke="#333333" stroke-width="1.3" />
<text x="628.16" y="409.60" font-size="10" text-anchor="middle" font-weight="bold" fill="#111" >35</text>
<line x1="644.64" y1="395.50" x2="644.64" y2="398.10" stroke="#333333" stroke-width="1.3" />
<text x="644.64" y="409.60" font-size="10" text-anchor="middle" font-weight="bold" fill="#111" >40</text>
<line x1="661.12" y1="395.50" x2="661.12" y2="398.10" stroke="#333333" stroke-width="1.3" />
<text x="661.12" y="409.60" font-size="10" text-anchor="middle" font-weight="bold" fill="#111" >45</text>
<line x1="677.60" y1="395.50" x2="677.60" y2="398.10" stroke="#333333" stroke-width="1.3" />
<text x="677.60" y="409.60" font-size="10" text-anchor="middle" font-weight="bold" fill="#111" >50</text>
<text x="596.20" y="423.70" font-size="10" text-anchor="middle" font-weight="bold" fill="#111" >Time(month)</text>
<text x="0" y="0" font-size="10" font-weight="bold" fill="#111" text-anchor="middle" transform="translate(475.20,315.80) rotate(-90)">QSM in aPu(ppm)</text>
<text x="544.40" y="233.50" font-size="10" font-weight="bold" fill="#111"><tspan font-style="italic">P</tspan> = 0.208, <tspan font-style="italic">P</tspan><tspan font-size="5.6">FDR</tspan> = 0.284</text>
<line x1="58.00" y1="492.40" x2="109.70" y2="498.20" stroke="#5f95c8" stroke-width="0.9" />
<line x1="58.00" y1="501.10" x2="126.00" y2="489.50" stroke="#5f95c8" stroke-width="0.9" />
<line x1="58.00" y1="501.70" x2="202.00" y2="502.30" stroke="#5f95c8" stroke-width="0.9" />
<line x1="58.00" y1="515.70" x2="204.90" y2="509.60" stroke="#5f95c8" stroke-width="0.9" />
<line x1="58.00" y1="521.60" x2="103.90" y2="515.50" stroke="#5f95c8" stroke-width="0.9" />
<line x1="58.00" y1="521.60" x2="123.70" y2="528.30" stroke="#5f95c8" stroke-width="0.9" />
<line x1="58.00" y1="529.50" x2="103.90" y2="528.30" stroke="#5f95c8" stroke-width="0.9" />
<line x1="58.00" y1="546.70" x2="123.70" y2="549.00" stroke="#5f95c8" stroke-width="0.9" />
<line x1="58.00" y1="469.20" x2="91.00" y2="470.20" stroke="#bf4c52" stroke-width="0.9" />
<line x1="58.00" y1="469.60" x2="204.90" y2="462.30" stroke="#bf4c52" stroke-width="0.9" />
<line x1="58.00" y1="471.40" x2="211.30" y2="465.80" stroke="#bf4c52" stroke-width="0.9" />
<line x1="58.00" y1="478.90" x2="211.30" y2="469.00" stroke="#bf4c52" stroke-width="0.9" />
<line x1="58.00" y1="480.00" x2="211.30" y2="474.50" stroke="#bf4c52" stroke-width="0.9" />
<line x1="58.00" y1="486.50" x2="84.00" y2="485.40" stroke="#bf4c52" stroke-width="0.9" />
<line x1="58.00" y1="479.80" x2="178.60" y2="481.30" stroke="#bf4c52" stroke-width="0.9" />
<line x1="58.00" y1="491.20" x2="199.10" y2="482.10" stroke="#bf4c52" stroke-width="0.9" />
<line x1="58.00" y1="493.50" x2="204.90" y2="483.30" stroke="#bf4c52" stroke-width="0.9" />
<line x1="58.00" y1="505.20" x2="199.10" y2="488.30" stroke="#bf4c52" stroke-width="0.9" />
<line x1="58.00" y1="500.00" x2="199.10" y2="499.30" stroke="#bf4c52" stroke-width="0.9" />
<line x1="58.00" y1="476.00" x2="150.00" y2="472.00" stroke="#bf4c52" stroke-width="0.9" />
<polygon points="58.00,504.30 204.90,491.50 204.90,523.70 58.00,515.10" fill="#b4b4b4" fill-opacity="0.5"/>
<line x1="58.00" y1="508.40" x2="204.90" y2="507.60" stroke="#4787c4" stroke-width="4.1" />
<polygon points="58.00,477.60 211.80,460.00 211.80,481.80 58.00,490.80" fill="#b4b4b4" fill-opacity="0.5"/>
<line x1="58.00" y1="484.00" x2="211.80" y2="471.00" stroke="#b2252a" stroke-width="4.1" />
<line x1="58.20" y1="438.50" x2="58.20" y2="601.50" stroke="#7a7a7a" stroke-width="1.4" />
<line x1="57.50" y1="601.50" x2="223.80" y2="601.50" stroke="#555555" stroke-width="1.3" />
<line x1="55.60" y1="601.50" x2="58.20" y2="601.50" stroke="#333333" stroke-width="1.2" />
<text x="52.90" y="605.60" font-size="10" text-anchor="end" font-weight="bold" fill="#111" >0.000</text>
<line x1="55.60" y1="574.42" x2="58.20" y2="574.42" stroke="#333333" stroke-width="1.2" />
<text x="52.90" y="578.52" font-size="10" text-anchor="end" font-weight="bold" fill="#111" >0.005</text>
<line x1="55.60" y1="547.33" x2="58.20" y2="547.33" stroke="#333333" stroke-width="1.2" />
<text x="52.90" y="551.43" font-size="10" text-anchor="end" font-weight="bold" fill="#111" >0.010</text>
<line x1="55.60" y1="520.25" x2="58.20" y2="520.25" stroke="#333333" stroke-width="1.2" />
<text x="52.90" y="524.35" font-size="10" text-anchor="end" font-weight="bold" fill="#111" >0.015</text>
<line x1="55.60" y1="493.17" x2="58.20" y2="493.17" stroke="#333333" stroke-width="1.2" />
<text x="52.90" y="497.27" font-size="10" text-anchor="end" font-weight="bold" fill="#111" >0.020</text>
<line x1="55.60" y1="466.08" x2="58.20" y2="466.08" stroke="#333333" stroke-width="1.2" />
<text x="52.90" y="470.18" font-size="10" text-anchor="end" font-weight="bold" fill="#111" >0.025</text>
<line x1="55.60" y1="439.00" x2="58.20" y2="439.00" stroke="#333333" stroke-width="1.2" />
<text x="52.90" y="443.10" font-size="10" text-anchor="end" font-weight="bold" fill="#111" >0.030</text>
<line x1="58.20" y1="601.50" x2="58.20" y2="604.10" stroke="#333333" stroke-width="1.3" />
<text x="58.20" y="614.30" font-size="10" text-anchor="middle" font-weight="bold" fill="#111" >0</text>
<line x1="74.70" y1="601.50" x2="74.70" y2="604.10" stroke="#333333" stroke-width="1.3" />
<text x="74.70" y="614.30" font-size="10" text-anchor="middle" font-weight="bold" fill="#111" >5</text>
<line x1="91.20" y1="601.50" x2="91.20" y2="604.10" stroke="#333333" stroke-width="1.3" />
<text x="91.20" y="614.30" font-size="10" text-anchor="middle" font-weight="bold" fill="#111" >10</text>
<line x1="107.70" y1="601.50" x2="107.70" y2="604.10" stroke="#333333" stroke-width="1.3" />
<text x="107.70" y="614.30" font-size="10" text-anchor="middle" font-weight="bold" fill="#111" >15</text>
<line x1="124.20" y1="601.50" x2="124.20" y2="604.10" stroke="#333333" stroke-width="1.3" />
<text x="124.20" y="614.30" font-size="10" text-anchor="middle" font-weight="bold" fill="#111" >20</text>
<line x1="140.70" y1="601.50" x2="140.70" y2="604.10" stroke="#333333" stroke-width="1.3" />
<text x="140.70" y="614.30" font-size="10" text-anchor="middle" font-weight="bold" fill="#111" >25</text>
<line x1="157.20" y1="601.50" x2="157.20" y2="604.10" stroke="#333333" stroke-width="1.3" />
<text x="157.20" y="614.30" font-size="10" text-anchor="middle" font-weight="bold" fill="#111" >30</text>
<line x1="173.70" y1="601.50" x2="173.70" y2="604.10" stroke="#333333" stroke-width="1.3" />
<text x="173.70" y="614.30" font-size="10" text-anchor="middle" font-weight="bold" fill="#111" >35</text>
<line x1="190.20" y1="601.50" x2="190.20" y2="604.10" stroke="#333333" stroke-width="1.3" />
<text x="190.20" y="614.30" font-size="10" text-anchor="middle" font-weight="bold" fill="#111" >40</text>
<line x1="206.70" y1="601.50" x2="206.70" y2="604.10" stroke="#333333" stroke-width="1.3" />
<text x="206.70" y="614.30" font-size="10" text-anchor="middle" font-weight="bold" fill="#111" >45</text>
<line x1="223.20" y1="601.50" x2="223.20" y2="604.10" stroke="#333333" stroke-width="1.3" />
<text x="223.20" y="614.30" font-size="10" text-anchor="middle" font-weight="bold" fill="#111" >50</text>
<text x="141.70" y="628.40" font-size="10" text-anchor="middle" font-weight="bold" fill="#111" >Time(month)</text>
<text x="0" y="0" font-size="10" font-weight="bold" fill="#111" text-anchor="middle" transform="translate(20.00,514.70) rotate(-90)">Para in precentral gyrus(ppm)</text>
<text x="88.40" y="440.90" font-size="10" font-weight="bold" fill="#111"><tspan font-style="italic">P</tspan> = 0.010, <tspan font-style="italic">P</tspan><tspan font-size="5.6">FDR</tspan> = 0.031</text>
<line x1="286.00" y1="524.20" x2="330.70" y2="523.60" stroke="#5f95c8" stroke-width="0.9" />
<line x1="286.00" y1="537.60" x2="336.60" y2="538.20" stroke="#5f95c8" stroke-width="0.9" />
<line x1="286.00" y1="540.00" x2="431.70" y2="538.10" stroke="#5f95c8" stroke-width="0.9" />
<line x1="286.00" y1="554.60" x2="330.70" y2="555.70" stroke="#5f95c8" stroke-width="0.9" />
<line x1="286.00" y1="557.50" x2="340.60" y2="557.50" stroke="#5f95c8" stroke-width="0.9" />
<line x1="286.00" y1="571.50" x2="350.60" y2="575.60" stroke="#5f95c8" stroke-width="0.9" />
<line x1="286.00" y1="534.00" x2="330.00" y2="531.00" stroke="#5f95c8" stroke-width="0.9" />
<line x1="286.00" y1="506.40" x2="438.70" y2="511.60" stroke="#bf4c52" stroke-width="0.9" />
<line x1="286.00" y1="512.30" x2="431.70" y2="494.10" stroke="#bf4c52" stroke-width="0.9" />
<line x1="286.00" y1="516.60" x2="317.90" y2="525.60" stroke="#bf4c52" stroke-width="0.9" />
<line x1="286.00" y1="526.50" x2="425.90" y2="499.00" stroke="#bf4c52" stroke-width="0.9" />
<line x1="286.00" y1="527.10" x2="425.90" y2="516.30" stroke="#bf4c52" stroke-width="0.9" />
<line x1="286.00" y1="532.00" x2="428.20" y2="524.70" stroke="#bf4c52" stroke-width="0.9" />
<line x1="286.00" y1="535.00" x2="425.90" y2="532.30" stroke="#bf4c52" stroke-width="0.9" />
<line x1="286.00" y1="537.00" x2="438.70" y2="537.60" stroke="#bf4c52" stroke-width="0.9" />
<line x1="286.00" y1="548.70" x2="404.00" y2="531.00" stroke="#bf4c52" stroke-width="0.9" />
<line x1="286.00" y1="559.80" x2="431.70" y2="537.60" stroke="#bf4c52" stroke-width="0.9" />
<line x1="286.00" y1="529.00" x2="340.00" y2="528.00" stroke="#bf4c52" stroke-width="0.9" />
<polygon points="286.00,540.10 431.90,536.80 431.90,559.80 286.00,549.10" fill="#b4b4b4" fill-opacity="0.5"/>
<line x1="286.00" y1="544.10" x2="431.90" y2="548.10" stroke="#4787c4" stroke-width="4.1" />
<polygon points="286.00,526.50 438.80,512.00 438.80,530.70 286.00,538.50" fill="#b4b4b4" fill-opacity="0.5"/>
<line x1="286.00" y1="533.50" x2="438.80" y2="521.40" stroke="#b2252a" stroke-width="4.1" />
<line x1="285.00" y1="437.80" x2="285.00" y2="601.00" stroke="#7a7a7a" stroke-width="1.4" />
<line x1="284.30" y1="601.00" x2="449.20" y2="601.00" stroke="#555555" stroke-width="1.3" />
<line x1="282.40" y1="601.00" x2="285.00" y2="601.00" stroke="#333333" stroke-width="1.2" />
<text x="279.70" y="605.10" font-size="10" text-anchor="end" font-weight="bold" fill="#111" >0.000</text>
<line x1="282.40" y1="573.88" x2="285.00" y2="573.88" stroke="#333333" stroke-width="1.2" />
<text x="279.70" y="577.98" font-size="10" text-anchor="end" font-weight="bold" fill="#111" >0.005</text>
<line x1="282.40" y1="546.77" x2="285.00" y2="546.77" stroke="#333333" stroke-width="1.2" />
<text x="279.70" y="550.87" font-size="10" text-anchor="end" font-weight="bold" fill="#111" >0.010</text>
<line x1="282.40" y1="519.65" x2="285.00" y2="519.65" stroke="#333333" stroke-width="1.2" />
<text x="279.70" y="523.75" font-size="10" text-anchor="end" font-weight="bold" fill="#111" >0.015</text>
<line x1="282.40" y1="492.53" x2="285.00" y2="492.53" stroke="#333333" stroke-width="1.2" />
<text x="279.70" y="496.63" font-size="10" text-anchor="end" font-weight="bold" fill="#111" >0.020</text>
<line x1="282.40" y1="465.42" x2="285.00" y2="465.42" stroke="#333333" stroke-width="1.2" />
<text x="279.70" y="469.52" font-size="10" text-anchor="end" font-weight="bold" fill="#111" >0.025</text>
<line x1="282.40" y1="438.30" x2="285.00" y2="438.30" stroke="#333333" stroke-width="1.2" />
<text x="279.70" y="442.40" font-size="10" text-anchor="end" font-weight="bold" fill="#111" >0.030</text>
<line x1="285.00" y1="601.00" x2="285.00" y2="603.60" stroke="#333333" stroke-width="1.3" />
<text x="285.00" y="613.80" font-size="10" text-anchor="middle" font-weight="bold" fill="#111" >0</text>
<line x1="301.36" y1="601.00" x2="301.36" y2="603.60" stroke="#333333" stroke-width="1.3" />
<text x="301.36" y="613.80" font-size="10" text-anchor="middle" font-weight="bold" fill="#111" >5</text>
<line x1="317.72" y1="601.00" x2="317.72" y2="603.60" stroke="#333333" stroke-width="1.3" />
<text x="317.72" y="613.80" font-size="10" text-anchor="middle" font-weight="bold" fill="#111" >10</text>
<line x1="334.08" y1="601.00" x2="334.08" y2="603.60" stroke="#333333" stroke-width="1.3" />
<text x="334.08" y="613.80" font-size="10" text-anchor="middle" font-weight="bold" fill="#111" >15</text>
<line x1="350.44" y1="601.00" x2="350.44" y2="603.60" stroke="#333333" stroke-width="1.3" />
<text x="350.44" y="613.80" font-size="10" text-anchor="middle" font-weight="bold" fill="#111" >20</text>
<line x1="366.80" y1="601.00" x2="366.80" y2="603.60" stroke="#333333" stroke-width="1.3" />
<text x="366.80" y="613.80" font-size="10" text-anchor="middle" font-weight="bold" fill="#111" >25</text>
<line x1="383.16" y1="601.00" x2="383.16" y2="603.60" stroke="#333333" stroke-width="1.3" />
<text x="383.16" y="613.80" font-size="10" text-anchor="middle" font-weight="bold" fill="#111" >30</text>
<line x1="399.52" y1="601.00" x2="399.52" y2="603.60" stroke="#333333" stroke-width="1.3" />
<text x="399.52" y="613.80" font-size="10" text-anchor="middle" font-weight="bold" fill="#111" >35</text>
<line x1="415.88" y1="601.00" x2="415.88" y2="603.60" stroke="#333333" stroke-width="1.3" />
<text x="415.88" y="613.80" font-size="10" text-anchor="middle" font-weight="bold" fill="#111" >40</text>
<line x1="432.24" y1="601.00" x2="432.24" y2="603.60" stroke="#333333" stroke-width="1.3" />
<text x="432.24" y="613.80" font-size="10" text-anchor="middle" font-weight="bold" fill="#111" >45</text>
<line x1="448.60" y1="601.00" x2="448.60" y2="603.60" stroke="#333333" stroke-width="1.3" />
<text x="448.60" y="613.80" font-size="10" text-anchor="middle" font-weight="bold" fill="#111" >50</text>
<text x="367.80" y="627.90" font-size="10" text-anchor="middle" font-weight="bold" fill="#111" >Time(month)</text>
<text x="0" y="0" font-size="10" font-weight="bold" fill="#111" text-anchor="middle" transform="translate(247.00,517.90) rotate(-90)">Dia in precentral gyrus(ppm)</text>
<text x="313.10" y="440.00" font-size="10" font-weight="bold" fill="#111"><tspan font-style="italic">P</tspan> = 0.004, <tspan font-style="italic">P</tspan><tspan font-size="5.6">FDR</tspan> = 0.019</text>
<line x1="513.00" y1="534.30" x2="557.70" y2="536.30" stroke="#5f95c8" stroke-width="0.9" />
<line x1="513.00" y1="544.80" x2="557.70" y2="536.00" stroke="#5f95c8" stroke-width="0.9" />
<line x1="513.00" y1="547.70" x2="567.60" y2="550.60" stroke="#5f95c8" stroke-width="0.9" />
<line x1="513.00" y1="571.10" x2="581.10" y2="540.10" stroke="#5f95c8" stroke-width="0.9" />
<line x1="513.00" y1="575.70" x2="577.60" y2="572.80" stroke="#5f95c8" stroke-width="0.9" />
<line x1="513.00" y1="578.70" x2="567.60" y2="572.20" stroke="#5f95c8" stroke-width="0.9" />
<line x1="513.00" y1="585.70" x2="558.30" y2="580.40" stroke="#5f95c8" stroke-width="0.9" />
<line x1="513.00" y1="585.70" x2="577.60" y2="593.80" stroke="#5f95c8" stroke-width="0.9" />
<line x1="513.00" y1="598.90" x2="558.30" y2="594.40" stroke="#5f95c8" stroke-width="0.9" />
<line x1="513.00" y1="541.30" x2="655.80" y2="521.10" stroke="#bf4c52" stroke-width="0.9" />
<line x1="513.00" y1="540.70" x2="554.80" y2="540.10" stroke="#bf4c52" stroke-width="0.9" />
<line x1="513.00" y1="548.30" x2="546.00" y2="538.40" stroke="#bf4c52" stroke-width="0.9" />
<line x1="513.00" y1="552.40" x2="665.70" y2="546.00" stroke="#bf4c52" stroke-width="0.9" />
<line x1="513.00" y1="571.60" x2="539.00" y2="549.50" stroke="#bf4c52" stroke-width="0.9" />
<line x1="513.00" y1="553.50" x2="659.30" y2="553.00" stroke="#bf4c52" stroke-width="0.9" />
<line x1="513.00" y1="568.70" x2="652.90" y2="578.70" stroke="#bf4c52" stroke-width="0.9" />
<line x1="513.00" y1="570.00" x2="652.90" y2="572.50" stroke="#bf4c52" stroke-width="0.9" />
<line x1="513.00" y1="572.00" x2="665.70" y2="562.30" stroke="#bf4c52" stroke-width="0.9" />
<line x1="513.00" y1="566.00" x2="659.30" y2="566.40" stroke="#bf4c52" stroke-width="0.9" />
<polygon points="513.00,561.90 659.60,542.80 659.60,578.40 513.00,572.40" fill="#b4b4b4" fill-opacity="0.5"/>
<line x1="513.00" y1="565.40" x2="659.60" y2="561.20" stroke="#4787c4" stroke-width="4.1" />
<polygon points="513.00,553.10 666.00,547.60 666.00,565.60 513.00,563.50" fill="#b4b4b4" fill-opacity="0.5"/>
<line x1="513.00" y1="558.50" x2="666.00" y2="557.00" stroke="#b2252a" stroke-width="4.1" />
<line x1="512.80" y1="437.70" x2="512.80" y2="600.50" stroke="#7a7a7a" stroke-width="1.4" />
<line x1="512.10" y1="600.50" x2="678.20" y2="600.50" stroke="#555555" stroke-width="1.3" />
<line x1="510.20" y1="600.50" x2="512.80" y2="600.50" stroke="#333333" stroke-width="1.2" />
<text x="507.50" y="604.60" font-size="10" text-anchor="end" font-weight="bold" fill="#111" >0.000</text>
<line x1="510.20" y1="573.45" x2="512.80" y2="573.45" stroke="#333333" stroke-width="1.2" />
<text x="507.50" y="577.55" font-size="10" text-anchor="end" font-weight="bold" fill="#111" >0.005</text>
<line x1="510.20" y1="546.40" x2="512.80" y2="546.40" stroke="#333333" stroke-width="1.2" />
<text x="507.50" y="550.50" font-size="10" text-anchor="end" font-weight="bold" fill="#111" >0.010</text>
<line x1="510.20" y1="519.35" x2="512.80" y2="519.35" stroke="#333333" stroke-width="1.2" />
<text x="507.50" y="523.45" font-size="10" text-anchor="end" font-weight="bold" fill="#111" >0.015</text>
<line x1="510.20" y1="492.30" x2="512.80" y2="492.30" stroke="#333333" stroke-width="1.2" />
<text x="507.50" y="496.40" font-size="10" text-anchor="end" font-weight="bold" fill="#111" >0.020</text>
<line x1="510.20" y1="465.25" x2="512.80" y2="465.25" stroke="#333333" stroke-width="1.2" />
<text x="507.50" y="469.35" font-size="10" text-anchor="end" font-weight="bold" fill="#111" >0.025</text>
<line x1="510.20" y1="438.20" x2="512.80" y2="438.20" stroke="#333333" stroke-width="1.2" />
<text x="507.50" y="442.30" font-size="10" text-anchor="end" font-weight="bold" fill="#111" >0.030</text>
<line x1="512.80" y1="600.50" x2="512.80" y2="603.10" stroke="#333333" stroke-width="1.3" />
<text x="512.80" y="613.30" font-size="10" text-anchor="middle" font-weight="bold" fill="#111" >0</text>
<line x1="529.28" y1="600.50" x2="529.28" y2="603.10" stroke="#333333" stroke-width="1.3" />
<text x="529.28" y="613.30" font-size="10" text-anchor="middle" font-weight="bold" fill="#111" >5</text>
<line x1="545.76" y1="600.50" x2="545.76" y2="603.10" stroke="#333333" stroke-width="1.3" />
<text x="545.76" y="613.30" font-size="10" text-anchor="middle" font-weight="bold" fill="#111" >10</text>
<line x1="562.24" y1="600.50" x2="562.24" y2="603.10" stroke="#333333" stroke-width="1.3" />
<text x="562.24" y="613.30" font-size="10" text-anchor="middle" font-weight="bold" fill="#111" >15</text>
<line x1="578.72" y1="600.50" x2="578.72" y2="603.10" stroke="#333333" stroke-width="1.3" />
<text x="578.72" y="613.30" font-size="10" text-anchor="middle" font-weight="bold" fill="#111" >20</text>
<line x1="595.20" y1="600.50" x2="595.20" y2="603.10" stroke="#333333" stroke-width="1.3" />
<text x="595.20" y="613.30" font-size="10" text-anchor="middle" font-weight="bold" fill="#111" >25</text>
<line x1="611.68" y1="600.50" x2="611.68" y2="603.10" stroke="#333333" stroke-width="1.3" />
<text x="611.68" y="613.30" font-size="10" text-anchor="middle" font-weight="bold" fill="#111" >30</text>
<line x1="628.16" y1="600.50" x2="628.16" y2="603.10" stroke="#333333" stroke-width="1.3" />
<text x="628.16" y="613.30" font-size="10" text-anchor="middle" font-weight="bold" fill="#111" >35</text>
<line x1="644.64" y1="600.50" x2="644.64" y2="603.10" stroke="#333333" stroke-width="1.3" />
<text x="644.64" y="613.30" font-size="10" text-anchor="middle" font-weight="bold" fill="#111" >40</text>
<line x1="661.12" y1="600.50" x2="661.12" y2="603.10" stroke="#333333" stroke-width="1.3" />
<text x="661.12" y="613.30" font-size="10" text-anchor="middle" font-weight="bold" fill="#111" >45</text>
<line x1="677.60" y1="600.50" x2="677.60" y2="603.10" stroke="#333333" stroke-width="1.3" />
<text x="677.60" y="613.30" font-size="10" text-anchor="middle" font-weight="bold" fill="#111" >50</text>
<text x="596.20" y="627.40" font-size="10" text-anchor="middle" font-weight="bold" fill="#111" >Time(month)</text>
<text x="0" y="0" font-size="10" font-weight="bold" fill="#111" text-anchor="middle" transform="translate(475.00,515.10) rotate(-90)">QSM in precentral gyrus(ppm)</text>
<text x="543.90" y="439.50" font-size="10" font-weight="bold" fill="#111"><tspan font-style="italic">P</tspan> = 0.459, <tspan font-style="italic">P</tspan><tspan font-size="5.6">FDR</tspan> = 0.459</text>
<text x="1.10" y="649.40" font-size="15" text-anchor="start" font-weight="bold" fill="#111" >D</text>
<rect x="27.8" y="639.2" width="9.8" height="9.2" fill="#fff" stroke="#c0282e" stroke-width="1.5"/>
<text x="45.50" y="647.90" font-size="10" text-anchor="start" font-weight="bold" fill="#111" >PD (n=15)</text>
<text x="87.90" y="676.10" font-size="10" font-weight="bold" fill="#111"><tspan font-style="italic">P</tspan> = 0.012, <tspan font-style="italic">P</tspan><tspan font-size="5.4">FDR</tspan> = 0.018, R<tspan font-size="5.4" dy="-3.5">2</tspan><tspan dy="3.5">=0.449</tspan></text>
<line x1="59.90" y1="688.00" x2="59.90" y2="841.10" stroke="#000" stroke-width="2.2" />
<line x1="58.80" y1="802.80" x2="289.50" y2="802.80" stroke="#000" stroke-width="2.2" />
<line x1="53.50" y1="688.90" x2="59.90" y2="688.90" stroke="#000" stroke-width="2" />
<text x="51.60" y="692.80" font-size="10.7" text-anchor="end" font-weight="bold" fill="#111" >30</text>
<line x1="53.50" y1="726.70" x2="59.90" y2="726.70" stroke="#000" stroke-width="2" />
<text x="51.60" y="730.60" font-size="10.7" text-anchor="end" font-weight="bold" fill="#111" >20</text>
<line x1="53.50" y1="764.50" x2="59.90" y2="764.50" stroke="#000" stroke-width="2" />
<text x="51.60" y="768.40" font-size="10.7" text-anchor="end" font-weight="bold" fill="#111" >10</text>
<line x1="53.50" y1="802.30" x2="59.90" y2="802.30" stroke="#000" stroke-width="2" />
<text x="51.60" y="806.20" font-size="10.7" text-anchor="end" font-weight="bold" fill="#111" >0</text>
<line x1="53.50" y1="840.10" x2="59.90" y2="840.10" stroke="#000" stroke-width="2" />
<text x="51.60" y="844.00" font-size="10.7" text-anchor="end" font-weight="bold" fill="#111" >-10</text>
<line x1="136.00" y1="802.80" x2="136.00" y2="808.80" stroke="#000" stroke-width="2" />
<text x="136.00" y="821.90" font-size="10.7" text-anchor="middle" font-weight="bold" fill="#111" >0.020</text>
<line x1="212.20" y1="802.80" x2="212.20" y2="808.80" stroke="#000" stroke-width="2" />
<text x="212.20" y="821.90" font-size="10.7" text-anchor="middle" font-weight="bold" fill="#111" >0.024</text>
<line x1="288.50" y1="802.80" x2="288.50" y2="808.80" stroke="#000" stroke-width="2" />
<text x="288.50" y="821.90" font-size="10.7" text-anchor="middle" font-weight="bold" fill="#111" >0.028</text>
<text x="70.50" y="862.80" font-size="10.25" text-anchor="start" font-weight="bold" fill="#111" >Baseline Para in precentral gyrus(ppm)</text>
<text x="0" y="0" font-size="10.1" font-weight="bold" fill="#111" text-anchor="middle" transform="translate(21.60,764.80) rotate(-90)">DeltaMDS-UPDRSIII(non-tremor)</text>
<defs><pattern id="hD" patternUnits="userSpaceOnUse" width="3.45" height="10" x="0"><rect width="3.45" height="10" fill="#b4b5b7" fill-opacity="0.62"/><rect x="0" width="1.15" height="10" fill="#a6a7a9"/></pattern></defs>
<polygon points="91.00,752.91 94.24,752.48 97.47,752.03 100.71,751.57 103.95,751.09 107.19,750.59 110.42,750.08 113.66,749.54 116.90,748.98 120.14,748.39 123.38,747.76 126.61,747.10 129.85,746.41 133.09,745.66 136.32,744.87 139.56,744.01 142.80,743.09 146.04,742.10 149.28,741.03 152.51,739.87 155.75,738.62 158.99,737.27 162.22,735.82 165.46,734.27 168.70,732.62 171.94,730.86 175.18,729.01 178.41,727.07 181.65,725.04 184.89,722.94 188.12,720.76 191.36,718.53 194.60,716.24 197.84,713.89 201.07,711.51 204.31,709.09 207.55,706.63 210.79,704.14 214.03,701.62 217.26,699.08 220.50,696.52 220.50,750.48 217.26,750.99 214.03,751.52 210.79,752.07 207.55,752.65 204.31,753.26 201.07,753.91 197.84,754.60 194.60,755.32 191.36,756.10 188.12,756.94 184.89,757.83 181.65,758.80 178.41,759.84 175.18,760.97 171.94,762.19 168.70,763.50 165.46,764.92 162.22,766.44 158.99,768.06 155.75,769.78 152.51,771.60 149.28,773.51 146.04,775.51 142.80,777.59 139.56,779.74 136.32,781.95 133.09,784.23 129.85,786.55 126.61,788.93 123.38,791.34 120.14,793.78 116.90,796.26 113.66,798.77 110.42,801.30 107.19,803.86 103.95,806.43 100.71,809.02 97.47,811.63 94.24,814.25 91.00,816.89" fill="url(#hD)" />
<polyline points="91.00,752.91 94.24,752.48 97.47,752.03 100.71,751.57 103.95,751.09 107.19,750.59 110.42,750.08 113.66,749.54 116.90,748.98 120.14,748.39 123.38,747.76 126.61,747.10 129.85,746.41 133.09,745.66 136.32,744.87 139.56,744.01 142.80,743.09 146.04,742.10 149.28,741.03 152.51,739.87 155.75,738.62 158.99,737.27 162.22,735.82 165.46,734.27 168.70,732.62 171.94,730.86 175.18,729.01 178.41,727.07 181.65,725.04 184.89,722.94 188.12,720.76 191.36,718.53 194.60,716.24 197.84,713.89 201.07,711.51 204.31,709.09 207.55,706.63 210.79,704.14 214.03,701.62 217.26,699.08 220.50,696.52" fill="none" stroke="#9a9a9a" stroke-width="0.8"/>
<polyline points="91.00,816.89 94.24,814.25 97.47,811.63 100.71,809.02 103.95,806.43 107.19,803.86 110.42,801.30 113.66,798.77 116.90,796.26 120.14,793.78 123.38,791.34 126.61,788.93 129.85,786.55 133.09,784.23 136.32,781.95 139.56,779.74 142.80,777.59 146.04,775.51 149.28,773.51 152.51,771.60 155.75,769.78 158.99,768.06 162.22,766.44 165.46,764.92 168.70,763.50 171.94,762.19 175.18,760.97 178.41,759.84 181.65,758.80 184.89,757.83 188.12,756.94 191.36,756.10 194.60,755.32 197.84,754.60 201.07,753.91 204.31,753.26 207.55,752.65 210.79,752.07 214.03,751.52 217.26,750.99 220.50,750.48" fill="none" stroke="#9a9a9a" stroke-width="0.8"/>
<rect x="89.10" y="810.60" width="4.40" height="4.40" fill="#fff" stroke="#c0282e" stroke-width="1.9"/>
<rect x="109.00" y="764.80" width="4.40" height="4.40" fill="#fff" stroke="#c0282e" stroke-width="1.9"/>
<rect x="127.00" y="753.30" width="4.40" height="4.40" fill="#fff" stroke="#c0282e" stroke-width="1.9"/>
<rect x="131.10" y="733.40" width="4.40" height="4.40" fill="#fff" stroke="#c0282e" stroke-width="1.9"/>
<rect x="140.20" y="783.70" width="4.40" height="4.40" fill="#fff" stroke="#c0282e" stroke-width="1.9"/>
<rect x="152.60" y="737.20" width="4.40" height="4.40" fill="#fff" stroke="#c0282e" stroke-width="1.9"/>
<rect x="168.20" y="779.40" width="4.40" height="4.40" fill="#fff" stroke="#c0282e" stroke-width="1.9"/>
<rect x="171.10" y="711.10" width="4.40" height="4.40" fill="#fff" stroke="#c0282e" stroke-width="1.9"/>
<rect x="179.70" y="713.40" width="4.40" height="4.40" fill="#fff" stroke="#c0282e" stroke-width="1.9"/>
<rect x="177.40" y="723.00" width="4.40" height="4.40" fill="#fff" stroke="#c0282e" stroke-width="1.9"/>
<rect x="178.90" y="749.60" width="4.40" height="4.40" fill="#fff" stroke="#c0282e" stroke-width="1.9"/>
<rect x="182.60" y="747.30" width="4.40" height="4.40" fill="#fff" stroke="#c0282e" stroke-width="1.9"/>
<rect x="184.20" y="765.10" width="4.40" height="4.40" fill="#fff" stroke="#c0282e" stroke-width="1.9"/>
<rect x="208.20" y="704.20" width="4.40" height="4.40" fill="#fff" stroke="#c0282e" stroke-width="1.9"/>
<rect x="217.80" y="748.90" width="4.40" height="4.40" fill="#fff" stroke="#c0282e" stroke-width="1.9"/>
<line x1="91.30" y1="784.50" x2="220.00" y2="723.80" stroke="#000" stroke-width="2.0" />
<text x="396.40" y="654.50" font-size="15" text-anchor="start" font-weight="bold" fill="#111" >E</text>
<text x="424.40" y="674.90" font-size="10" font-weight="bold" fill="#111"><tspan font-style="italic">P</tspan> &lt; 0.001, <tspan font-style="italic">P</tspan><tspan font-size="5.4">FDR</tspan> = 0.001, R<tspan font-size="5.4" dy="-3.5">2</tspan><tspan dy="3.5">=0.693</tspan></text>
<line x1="486.10" y1="691.00" x2="486.10" y2="842.20" stroke="#000" stroke-width="2.2" />
<line x1="410.80" y1="803.90" x2="636.50" y2="803.90" stroke="#000" stroke-width="2.2" />
<line x1="480.10" y1="691.90" x2="486.10" y2="691.90" stroke="#000" stroke-width="2" />
<text x="478.20" y="696.20" font-size="10.7" text-anchor="end" font-weight="bold" fill="#111" >60</text>
<line x1="480.10" y1="729.20" x2="486.10" y2="729.20" stroke="#000" stroke-width="2" />
<text x="478.20" y="733.50" font-size="10.7" text-anchor="end" font-weight="bold" fill="#111" >40</text>
<line x1="480.10" y1="766.50" x2="486.10" y2="766.50" stroke="#000" stroke-width="2" />
<text x="478.20" y="770.80" font-size="10.7" text-anchor="end" font-weight="bold" fill="#111" >20</text>
<line x1="480.10" y1="841.10" x2="486.10" y2="841.10" stroke="#000" stroke-width="2" />
<text x="478.20" y="845.40" font-size="10.7" text-anchor="end" font-weight="bold" fill="#111" >-20</text>
<line x1="411.90" y1="803.90" x2="411.90" y2="809.60" stroke="#000" stroke-width="2" />
<text x="411.90" y="824.10" font-size="10.7" text-anchor="middle" font-weight="bold" fill="#111" >-0.01</text>
<line x1="560.50" y1="803.90" x2="560.50" y2="809.60" stroke="#000" stroke-width="2" />
<text x="560.50" y="824.10" font-size="10.7" text-anchor="middle" font-weight="bold" fill="#111" >0.01</text>
<line x1="635.40" y1="803.90" x2="635.40" y2="809.60" stroke="#000" stroke-width="2" />
<text x="635.40" y="824.10" font-size="10.7" text-anchor="middle" font-weight="bold" fill="#111" >0.02</text>
<text x="455.50" y="862.70" font-size="10.2" text-anchor="start" font-weight="bold" fill="#111" >Delta Para in vmPu(ppm)</text>
<text x="0" y="0" font-size="10.1" font-weight="bold" fill="#111" text-anchor="middle" transform="translate(384.70,769.10) rotate(-90)">DeltaMDS-UPDRSIII(non-tremor)</text>
<defs><pattern id="hE" patternUnits="userSpaceOnUse" width="3.45" height="10" x="0"><rect width="3.45" height="10" fill="#b4b5b7" fill-opacity="0.62"/><rect x="0" width="1.15" height="10" fill="#a6a7a9"/></pattern></defs>
<polygon points="450.20,798.60 453.90,797.47 457.59,796.34 461.29,795.20 464.99,794.05 468.69,792.90 472.38,791.73 476.08,790.56 479.78,789.37 483.48,788.16 487.18,786.94 490.87,785.69 494.57,784.42 498.27,783.11 501.96,781.77 505.66,780.39 509.36,778.96 513.06,777.46 516.75,775.91 520.45,774.29 524.15,772.60 527.85,770.83 531.54,769.00 535.24,767.10 538.94,765.14 542.64,763.13 546.34,761.07 550.03,758.98 553.73,756.85 557.43,754.69 561.12,752.51 564.82,750.32 568.52,748.10 572.22,745.87 575.91,743.63 579.61,741.38 583.31,739.12 587.01,736.85 590.71,734.57 594.40,732.29 598.10,730.01 598.10,758.19 594.40,759.32 590.71,760.45 587.01,761.58 583.31,762.72 579.61,763.87 575.91,765.03 572.22,766.20 568.52,767.38 564.82,768.57 561.12,769.79 557.43,771.02 553.73,772.27 550.03,773.55 546.34,774.87 542.64,776.22 538.94,777.62 535.24,779.07 531.54,780.58 527.85,782.16 524.15,783.80 520.45,785.52 516.75,787.31 513.06,789.17 509.36,791.08 505.66,793.06 501.96,795.09 498.27,797.16 494.57,799.26 490.87,801.40 487.18,803.56 483.48,805.75 479.78,807.95 476.08,810.17 472.38,812.41 468.69,814.65 464.99,816.91 461.29,819.17 457.59,821.44 453.90,823.72 450.20,826.00" fill="url(#hE)" />
<polyline points="450.20,798.60 453.90,797.47 457.59,796.34 461.29,795.20 464.99,794.05 468.69,792.90 472.38,791.73 476.08,790.56 479.78,789.37 483.48,788.16 487.18,786.94 490.87,785.69 494.57,784.42 498.27,783.11 501.96,781.77 505.66,780.39 509.36,778.96 513.06,777.46 516.75,775.91 520.45,774.29 524.15,772.60 527.85,770.83 531.54,769.00 535.24,767.10 538.94,765.14 542.64,763.13 546.34,761.07 550.03,758.98 553.73,756.85 557.43,754.69 561.12,752.51 564.82,750.32 568.52,748.10 572.22,745.87 575.91,743.63 579.61,741.38 583.31,739.12 587.01,736.85 590.71,734.57 594.40,732.29 598.10,730.01" fill="none" stroke="#9a9a9a" stroke-width="0.8"/>
<polyline points="450.20,826.00 453.90,823.72 457.59,821.44 461.29,819.17 464.99,816.91 468.69,814.65 472.38,812.41 476.08,810.17 479.78,807.95 483.48,805.75 487.18,803.56 490.87,801.40 494.57,799.26 498.27,797.16 501.96,795.09 505.66,793.06 509.36,791.08 513.06,789.17 516.75,787.31 520.45,785.52 524.15,783.80 527.85,782.16 531.54,780.58 535.24,779.07 538.94,777.62 542.64,776.22 546.34,774.87 550.03,773.55 553.73,772.27 557.43,771.02 561.12,769.79 564.82,768.57 568.52,767.38 572.22,766.20 575.91,765.03 579.61,763.87 583.31,762.72 587.01,761.58 590.71,760.45 594.40,759.32 598.10,758.19" fill="none" stroke="#9a9a9a" stroke-width="0.8"/>
<rect x="449.00" y="812.60" width="4.40" height="4.40" fill="#fff" stroke="#c0282e" stroke-width="1.9"/>
<rect x="478.30" y="793.50" width="4.40" height="4.40" fill="#fff" stroke="#c0282e" stroke-width="1.9"/>
<rect x="488.70" y="794.00" width="4.40" height="4.40" fill="#fff" stroke="#c0282e" stroke-width="1.9"/>
<rect x="490.70" y="771.90" width="4.40" height="4.40" fill="#fff" stroke="#c0282e" stroke-width="1.9"/>
<rect x="493.60" y="797.70" width="4.40" height="4.40" fill="#fff" stroke="#c0282e" stroke-width="1.9"/>
<rect x="496.90" y="794.00" width="4.40" height="4.40" fill="#fff" stroke="#c0282e" stroke-width="1.9"/>
<rect x="515.50" y="783.10" width="4.40" height="4.40" fill="#fff" stroke="#c0282e" stroke-width="1.9"/>
<rect x="516.70" y="773.60" width="4.40" height="4.40" fill="#fff" stroke="#c0282e" stroke-width="1.9"/>
<rect x="518.50" y="768.20" width="4.40" height="4.40" fill="#fff" stroke="#c0282e" stroke-width="1.9"/>
<rect x="524.70" y="794.20" width="4.40" height="4.40" fill="#fff" stroke="#c0282e" stroke-width="1.9"/>
<rect x="551.50" y="740.10" width="4.40" height="4.40" fill="#fff" stroke="#c0282e" stroke-width="1.9"/>
<rect x="551.70" y="749.60" width="4.40" height="4.40" fill="#fff" stroke="#c0282e" stroke-width="1.9"/>
<rect x="560.20" y="766.20" width="4.40" height="4.40" fill="#fff" stroke="#c0282e" stroke-width="1.9"/>
<rect x="580.30" y="753.30" width="4.40" height="4.40" fill="#fff" stroke="#c0282e" stroke-width="1.9"/>
<rect x="594.90" y="747.60" width="4.40" height="4.40" fill="#fff" stroke="#c0282e" stroke-width="1.9"/>
<line x1="451.00" y1="812.00" x2="597.30" y2="744.30" stroke="#000" stroke-width="1.9" />
</svg></body></html>
